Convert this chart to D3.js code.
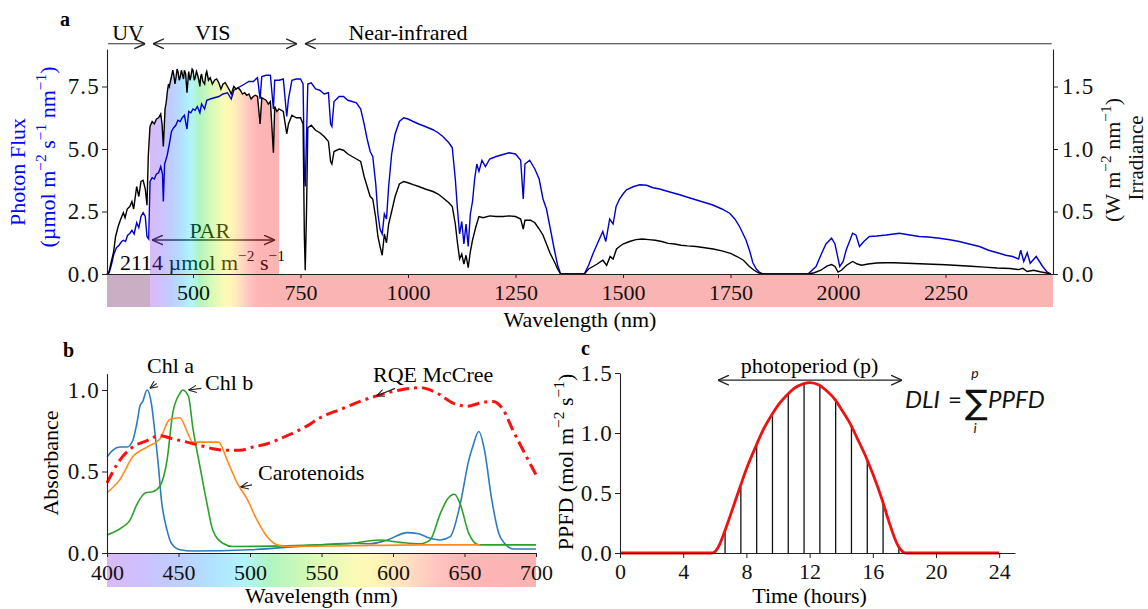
<!DOCTYPE html>
<html><head><meta charset="utf-8">
<script src="https://cdn.jsdelivr.net/npm/d3@7"></script>
<style>body{margin:0;background:#fff} svg{display:block}</style>
</head><body><svg id="c" width="1148" height="609"></svg>
<script>
// ---------- DATA ----------
// Panel a: solar irradiance (W m-2 nm-1, right axis) and photon flux (umol m-2 s-1 nm-1, left axis)
const irradiance = [[300,0],[305,0.02],[310,0.1],[315,0.17],[320,0.3],[326,0.38],[332,0.44],[338,0.49],[342,0.45],[347,0.52],[353,0.54],[358,0.58],[362,0.52],[369,0.70],[374,0.62],[379,0.74],[384,0.75],[389,0.68],[393,0.55],[396,0.94],[400,1.18],[405,1.22],[410,1.20],[415,1.24],[420,1.25],[425,1.28],[428,1.2],[431,1.02],[435,1.32],[438,1.38],[440,1.45],[443,1.52],[445,1.5],[448,1.55],[450,1.58],[453,1.63],[455,1.6],[458,1.52],[460,1.56],[463,1.64],[465,1.62],[468,1.55],[470,1.57],[473,1.63],[475,1.6],[478,1.56],[480,1.63],[483,1.6],[486,1.45],[490,1.62],[493,1.55],[495,1.58],[498,1.64],[500,1.63],[503,1.55],[505,1.57],[508,1.62],[510,1.6],[513,1.56],[516,1.5],[518,1.58],[520,1.6],[523,1.54],[527,1.52],[530,1.6],[532,1.62],[536,1.55],[540,1.57],[545,1.52],[550,1.55],[555,1.56],[560,1.53],[565,1.48],[570,1.52],[575,1.53],[580,1.5],[585,1.47],[589,1.44],[595,1.5],[600,1.48],[605,1.49],[610,1.47],[615,1.44],[620,1.45],[625,1.43],[630,1.44],[635,1.4],[640,1.42],[645,1.43],[650,1.42],[656,1.2],[660,1.41],[665,1.4],[670,1.39],[675,1.36],[680,1.38],[687,0.97],[690,1.34],[695,1.3],[700,1.32],[710,1.3],[718,1.12],[722,1.2],[730,1.27],[740,1.25],[750,1.25],[756,1.2],[759,0.3],[761,0.03],[764,0.5],[767,1.17],[775,1.19],[785,1.15],[795,1.13],[805,1.1],[815,1.06],[820,0.9],[823,0.88],[828,0.98],[840,1.0],[850,0.99],[860,0.96],[870,0.94],[880,0.92],[890,0.9],[898,0.78],[905,0.7],[912,0.62],[918,0.6],[925,0.45],[930,0.3],[935,0.22],[940,0.15],[945,0.32],[950,0.25],[955,0.4],[962,0.5],[970,0.62],[980,0.72],[990,0.74],[1000,0.73],[1012,0.715],[1025,0.70],[1040,0.68],[1058,0.66],[1070,0.64],[1081,0.61],[1095,0.57],[1103,0.54],[1110,0.4],[1115,0.25],[1120,0.12],[1125,0.16],[1130,0.08],[1135,0.15],[1140,0.05],[1145,0.18],[1150,0.27],[1158,0.38],[1165,0.46],[1175,0.45],[1190,0.465],[1205,0.46],[1221,0.46],[1235,0.465],[1250,0.46],[1262,0.44],[1268,0.36],[1272,0.43],[1285,0.43],[1295,0.41],[1305,0.36],[1314,0.31],[1322,0.24],[1330,0.17],[1340,0.1],[1348,0.04],[1355,0],[1410,0],[1420,0.04],[1430,0.06],[1440,0.08],[1453,0.11],[1462,0.07],[1470,0.14],[1477,0.12],[1485,0.2],[1492,0.22],[1500,0.24],[1515,0.26],[1530,0.275],[1545,0.28],[1560,0.275],[1575,0.27],[1590,0.26],[1605,0.245],[1620,0.24],[1635,0.23],[1650,0.225],[1670,0.22],[1690,0.21],[1710,0.2],[1730,0.185],[1750,0.165],[1765,0.14],[1780,0.11],[1794,0.06],[1805,0.03],[1815,0.01],[1825,0],[1930,0],[1945,0.01],[1960,0.03],[1975,0.065],[1985,0.075],[1993,0.06],[2000,0.015],[2008,0.03],[2020,0.07],[2034,0.1],[2045,0.08],[2055,0.07],[2070,0.08],[2090,0.088],[2110,0.09],[2130,0.09],[2160,0.086],[2190,0.082],[2220,0.078],[2250,0.074],[2280,0.068],[2310,0.062],[2340,0.055],[2370,0.048],[2400,0.044],[2420,0.035],[2430,0.045],[2440,0.02],[2455,0.03],[2470,0.018],[2485,0.008],[2495,0]];

const photonFlux = [[300,0],[305,0.05],[310,0.35],[316,0.8],[322,1.05],[328,1.15],[334,1.3],[338,1.35],[343,1.3],[348,1.55],[353,1.62],[358,1.75],[363,1.6],[369,2.05],[374,1.85],[379,2.3],[384,2.45],[389,2.3],[393,1.5],[397,1.4],[400,3.7],[405,3.85],[410,3.8],[415,4.0],[420,4.05],[425,4.3],[429,4.0],[431,2.9],[434,4.4],[440,4.75],[445,5.2],[450,5.7],[455,5.85],[460,5.95],[465,6.15],[470,6.1],[475,6.25],[480,6.35],[486,5.8],[490,6.5],[495,6.45],[500,6.6],[505,6.55],[510,6.7],[516,6.45],[520,6.8],[527,6.6],[532,6.95],[540,7.0],[550,7.05],[560,7.1],[570,7.2],[580,7.25],[589,7.0],[595,7.35],[600,7.4],[610,7.5],[620,7.6],[630,7.7],[640,7.7],[650,7.85],[656,7.0],[660,7.9],[670,7.95],[680,7.95],[687,6.6],[690,7.75],[700,7.75],[710,7.8],[718,6.3],[722,7.0],[730,7.75],[740,7.8],[750,7.8],[756,7.6],[759,4.0],[761,3.5],[764,5.5],[767,7.6],[775,7.65],[785,7.4],[795,7.35],[805,7.2],[815,7.25],[820,6.0],[823,5.9],[828,6.9],[840,7.1],[850,7.1],[860,6.95],[870,6.9],[880,6.85],[890,6.6],[898,6.0],[905,5.4],[912,4.9],[918,4.7],[925,3.6],[930,2.4],[935,1.8],[940,1.6],[945,2.4],[950,2.2],[955,3.5],[962,4.8],[970,5.6],[980,6.1],[990,6.25],[1000,6.2],[1012,6.1],[1025,6.0],[1040,5.9],[1058,5.77],[1070,5.65],[1081,5.5],[1095,5.25],[1103,5.05],[1110,3.8],[1115,2.6],[1120,1.6],[1125,2.1],[1130,1.2],[1135,2.0],[1140,1.1],[1145,2.4],[1150,2.9],[1155,3.8],[1160,4.4],[1165,4.1],[1172,4.55],[1180,4.3],[1190,4.6],[1205,4.7],[1221,4.78],[1235,4.85],[1250,4.8],[1262,4.55],[1268,3.0],[1272,4.4],[1283,4.55],[1295,4.2],[1305,3.8],[1314,3.0],[1322,2.6],[1330,1.9],[1340,1.0],[1348,0.35],[1355,0],[1410,0],[1420,0.35],[1430,0.8],[1440,1.2],[1453,1.7],[1460,1.3],[1469,2.2],[1477,2.0],[1484,2.7],[1492,3.0],[1500,3.2],[1508,3.37],[1525,3.5],[1539,3.57],[1555,3.55],[1570,3.45],[1585,3.4],[1601,3.32],[1615,3.25],[1632,3.17],[1650,3.07],[1671,2.96],[1690,2.86],[1709,2.76],[1730,2.6],[1748,2.43],[1760,2.2],[1771,1.9],[1786,1.36],[1795,0.9],[1802,0.45],[1810,0.2],[1817,0.08],[1825,0],[1930,0],[1949,0.3],[1960,0.75],[1972,1.2],[1985,1.43],[1993,1.2],[2004,0.3],[2012,0.5],[2019,0.96],[2034,1.63],[2042,1.55],[2050,1.1],[2060,1.3],[2073,1.5],[2090,1.52],[2112,1.56],[2130,1.6],[2143,1.63],[2160,1.58],[2189,1.5],[2210,1.48],[2236,1.43],[2260,1.37],[2282,1.3],[2305,1.2],[2329,1.1],[2350,0.95],[2375,0.83],[2390,0.75],[2406,0.7],[2420,0.6],[2425,0.95],[2432,0.5],[2440,0.85],[2447,0.43],[2461,0.7],[2476,0.3],[2485,0.1],[2495,0]];

const ticksA = [500,750,1000,1250,1500,1750,2000,2250];
const ticksAL = [0,2.5,5.0,7.5];
const ticksAR = [0,0.5,1.0,1.5];

// Panel b: absorbance spectra
const chlA = [[400,0.59],[404,0.63],[409,0.65],[414,0.65],[418,0.69],[421,0.8],[423,0.9],[425,0.93],[428,1.0],[431,0.92],[433.6,0.73],[436,0.53],[438,0.33],[442,0.14],[445,0.06],[451,0.02],[460,0.012],[500,0.02],[549,0.05],[572,0.06],[584,0.057],[596,0.08],[610,0.125],[617,0.12],[626,0.09],[633,0.08],[640,0.1],[647,0.3],[653,0.57],[656,0.66],[660,0.745],[664,0.63],[669,0.33],[674,0.12],[678,0.06],[684,0.025],[700,0.025]];
const chlB = [[400,0.11],[411,0.16],[416,0.2],[421,0.3],[427,0.37],[432,0.376],[437,0.41],[442,0.57],[446,0.86],[451,0.98],[453,1.0],[457,0.96],[460,0.77],[465,0.53],[470,0.3],[474,0.14],[481,0.06],[488,0.04],[549,0.05],[572,0.06],[590,0.08],[605,0.065],[619,0.056],[626,0.08],[633,0.24],[638,0.33],[643,0.36],[647,0.3],[653,0.12],[660,0.05],[700,0.05]];
const carotenoids = [[400,0.37],[409,0.45],[418,0.59],[428,0.65],[437,0.7],[444,0.82],[451,0.83],[456,0.745],[460,0.68],[466,0.68],[472,0.68],[478,0.68],[484,0.57],[491,0.43],[498,0.33],[505,0.2],[512,0.1],[519,0.05],[526,0.04],[570,0.045],[620,0.05],[661,0.05]];
const rqe = [[400,0.43],[409,0.57],[418,0.65],[428,0.69],[437,0.72],[446,0.70],[456,0.68],[465,0.66],[474,0.64],[484,0.63],[493,0.63],[502,0.65],[512,0.67],[526,0.72],[540,0.78],[549,0.83],[554,0.85],[563,0.88],[577,0.93],[591,0.97],[605,1.0],[619,1.014],[631,0.98],[642,0.92],[652,0.90],[661,0.92],[670,0.93],[677,0.88],[684,0.75],[691,0.63],[700,0.48]];
const ticksBX = [400,450,500,550,600,650,700];
const ticksBY = [0,0.5,1.0];

// Panel c: PPFD over a day
const ppfdCurve = [[0,0],[5.8,0],[6.0,0.01],[6.3,0.07],[6.6,0.17],[7.0,0.32],[7.6,0.55],[8.0,0.70],[8.6,0.89],[9.0,1.01],[9.6,1.15],[10,1.23],[10.6,1.32],[11,1.37],[11.6,1.41],[12,1.42],[12.6,1.40],[13,1.36],[13.6,1.28],[14,1.2],[14.6,1.07],[15,0.96],[15.6,0.79],[16,0.66],[16.6,0.44],[17,0.27],[17.6,0.06],[17.9,0.01],[18.1,0],[24,0]];
const ppfdHours = [6.65,7.65,8.65,9.65,10.65,11.65,12.65,13.65,14.65,15.65,16.65,17.65];
const ppfdBars = [0.17,0.55,0.89,1.14,1.32,1.40,1.39,1.28,1.07,0.79,0.44,0.04];
const ticksCX = [0,4,8,12,16,20,24];
const ticksCY = [0,0.5,1.0,1.5];

// spectrum colour stops (nm, colour) used with transparency
const bandStops = [[300,"#5a0a4c"],[399,"#5a0a4c"],[400.5,"#8a30e0"],[425,"#6a40ff"],[450,"#3a6cff"],[475,"#10a8ff"],[495,"#10e0f0"],[515,"#10e040"],[545,"#90f020"],[575,"#f8f020"],[590,"#ffe020"],[610,"#ffa040"],[630,"#ff5040"],[650,"#ff2020"],[700,"#f01b1b"],[2500,"#f01b1b"]];

// ---------- DRAW ----------
const SERIF = "'Liberation Serif','Times New Roman',serif";
const svg = d3.select("#c").style("font-family",SERIF);
const FS = 22, LFS = 22, YFS = 23;
const defs = svg.append("defs");

function marker(id, size, color){
  defs.append("marker").attr("id",id).attr("viewBox","0 0 10 10").attr("refX",10).attr("refY",5)
    .attr("markerWidth",size).attr("markerHeight",size).attr("markerUnits","userSpaceOnUse")
    .attr("orient","auto-start-reverse")
    .append("path").attr("d","M0,0.5 L10,5 L0,9.5").attr("fill","none").attr("stroke",color).attr("stroke-width",1.3);
}
marker("ah",11,"#222");
marker("ahs",8,"#222");

function gradient(id, scale, lo, hi){
  const g = defs.append("linearGradient").attr("id",id).attr("gradientUnits","userSpaceOnUse")
    .attr("x1",scale(lo)).attr("x2",scale(hi)).attr("y1",0).attr("y2",0);
  bandStops.filter(s=>s[0]>=lo-1 && s[0]<=hi+1).forEach(s=>{
    g.append("stop").attr("offset",Math.max(0,Math.min(1,(s[0]-lo)/(hi-lo)))).attr("stop-color",s[1]);
  });
}

function rich(t, parts, fs){
  let up=false;
  parts.forEach(p=>{
    if(Array.isArray(p)){
      t.append("tspan").attr("font-size",fs*0.7).attr("dy",-fs*0.42).text(p[0]); up=true;
    } else {
      const ts=t.append("tspan").text(p);
      if(up){ts.attr("dy",fs*0.42); up=false;}
    }
  });
  return t;
}
function styleAxis(g, fs, ls){
  g.attr("font-family",null).attr("font-size",null);
  g.selectAll("text").style("font-family",SERIF).attr("font-size",fs).attr("fill","#111");
  if(ls) g.selectAll("text").attr("letter-spacing",ls);
  g.selectAll("line").attr("stroke","#222").attr("stroke-width",1);
  g.select(".domain").attr("stroke","#222").attr("stroke-width",1.1);
}

// ===== Panel a =====
const xA = d3.scaleLinear([300,2500],[107,1053]);
const yA = d3.scaleLinear([0,9],[274,49]);
const yA2 = d3.scaleLinear([0,1.8],[274,49]);
gradient("gA", xA, 300, 2500);

svg.append("rect").attr("x",xA(300)).attr("y",274).attr("width",xA(2500)-xA(300)).attr("height",33)
  .attr("fill","url(#gA)").attr("opacity",0.33);

// annotations (under the PAR colouring)
const ga = svg.append("g");
ga.append("line").attr("x1",xA(405)).attr("x2",xA(690)).attr("y1",yA(1.36)).attr("y2",yA(1.36))
  .attr("stroke","#222").attr("stroke-width",1.3).attr("marker-start","url(#ah)").attr("marker-end","url(#ah)");
ga.append("text").attr("x",xA(539)).attr("y",yA(1.44)).attr("text-anchor","middle").attr("font-size",LFS).text("PAR");
rich(ga.append("text").attr("x",xA(330)).attr("y",yA(0.16)).attr("font-size",LFS),["2114 µmol m",["−2"]," s",["−1"]],LFS);

// PAR colour under the irradiance curve
defs.append("clipPath").attr("id","parClip").append("rect")
  .attr("x",xA(400)).attr("width",xA(700)-xA(400)).attr("y",0).attr("height",300);
svg.append("path").datum(irradiance)
  .attr("d",d3.area().x(d=>xA(d[0])).y0(yA2(0)).y1(d=>yA2(d[1])))
  .attr("fill","url(#gA)").attr("opacity",0.33).attr("clip-path","url(#parClip)");

// curves
svg.append("path").datum(photonFlux).attr("d",d3.line().x(d=>xA(d[0])).y(d=>yA(d[1])))
  .attr("fill","none").attr("stroke","#0000cc").attr("stroke-width",1.4);
svg.append("path").datum(irradiance).attr("d",d3.line().x(d=>xA(d[0])).y(d=>yA2(d[1])))
  .attr("fill","none").attr("stroke","#000").attr("stroke-width",1.4);

// axes
styleAxis(svg.append("g").attr("transform","translate(0,274)")
  .call(d3.axisBottom(xA).tickValues(ticksA).tickFormat(d3.format("d")).tickSize(4).tickSizeOuter(0).tickPadding(6)),FS);
styleAxis(svg.append("g").attr("transform","translate(107,0)")
  .call(d3.axisLeft(yA).tickValues(ticksAL).tickFormat(d3.format(".1f")).tickSize(5).tickSizeOuter(0).tickPadding(2)),YFS,1.2);
styleAxis(svg.append("g").attr("transform","translate(1053,0)")
  .call(d3.axisRight(yA2).tickValues(ticksAR).tickFormat(d3.format(".1f")).tickSize(5).tickSizeOuter(0).tickPadding(4)),YFS,1.2);

svg.append("text").attr("x",xA(1400)).attr("y",327).attr("text-anchor","middle").attr("font-size",LFS).text("Wavelength (nm)");
svg.append("text").attr("transform",`translate(25,${172}) rotate(-90)`).attr("text-anchor","middle")
  .attr("font-size",LFS).attr("fill","#0000ff").text("Photon Flux");
rich(svg.append("text").attr("transform",`translate(55,${157}) rotate(-90)`).attr("text-anchor","middle")
  .attr("font-size",LFS).attr("fill","#0000ff"),["(µmol m",["−2"]," s",["−1"]," nm",["−1"],")"],LFS);
rich(svg.append("text").attr("transform",`translate(1120,${160}) rotate(-90)`).attr("text-anchor","middle")
  .attr("font-size",LFS).attr("fill","#111"),["(W m",["−2"]," nm",["−1"],")"],LFS);
svg.append("text").attr("transform",`translate(1143,${158}) rotate(-90)`).attr("text-anchor","middle")
  .attr("font-size",21).attr("fill","#111").text("Irradiance");

// region arrows
const yTop = yA(9.21);
svg.append("line").attr("x1",xA(302)).attr("x2",xA(389)).attr("y1",yTop).attr("y2",yTop)
  .attr("stroke","#333").attr("stroke-width",1.2).attr("marker-end","url(#ah)");
svg.append("line").attr("x1",xA(407)).attr("x2",xA(742)).attr("y1",yTop).attr("y2",yTop)
  .attr("stroke","#333").attr("stroke-width",1.2).attr("marker-start","url(#ah)").attr("marker-end","url(#ah)");
svg.append("line").attr("x1",xA(760)).attr("x2",xA(2497)).attr("y1",yTop).attr("y2",yTop)
  .attr("stroke","#333").attr("stroke-width",1.2).attr("marker-start","url(#ah)");
svg.append("text").attr("x",xA(349)).attr("y",yA(9.35)).attr("text-anchor","middle").attr("font-size",LFS).text("UV");
svg.append("text").attr("x",xA(546)).attr("y",yA(9.35)).attr("text-anchor","middle").attr("font-size",LFS).text("VIS");
svg.append("text").attr("x",xA(1000)).attr("y",yA(9.35)).attr("text-anchor","middle").attr("font-size",LFS).text("Near-infrared");
svg.append("text").attr("x",60).attr("y",26).attr("font-size",20).attr("font-weight","bold").text("a");

// ===== Panel b =====
const xB = d3.scaleLinear([400,700],[107,536]);
const yB = d3.scaleLinear([0,1.1],[553,373.7]);
gradient("gB", xB, 400, 700);
svg.append("rect").attr("x",xB(400)).attr("y",553).attr("width",xB(700)-xB(400)).attr("height",34)
  .attr("fill","url(#gB)").attr("opacity",0.33);
const lineB = d3.line().x(d=>xB(d[0])).y(d=>yB(d[1])).curve(d3.curveMonotoneX);
[[chlA,"#2b7bbf"],[chlB,"#2ca02c"],[carotenoids,"#ff8c1a"]].forEach(([d,c])=>{
  svg.append("path").datum(d).attr("d",lineB).attr("fill","none").attr("stroke",c).attr("stroke-width",1.6);
});
svg.append("path").datum(rqe).attr("d",lineB).attr("fill","none").attr("stroke","#ff1010")
  .attr("stroke-width",3).attr("stroke-dasharray","12,5,3,5");

styleAxis(svg.append("g").attr("transform","translate(0,553)")
  .call(d3.axisBottom(xB).tickValues(ticksBX).tickFormat(d3.format("d")).tickSize(4).tickSizeOuter(0).tickPadding(7)),FS);
styleAxis(svg.append("g").attr("transform","translate(107,0)")
  .call(d3.axisLeft(yB).tickValues(ticksBY).tickFormat(d3.format(".1f")).tickSize(5).tickSizeOuter(0).tickPadding(2)),YFS,1.2);

svg.append("text").attr("x",xB(550)).attr("y",603).attr("text-anchor","middle").attr("font-size",LFS).text("Wavelength (nm)");
svg.append("text").attr("transform",`translate(58,463) rotate(-90)`).attr("text-anchor","middle").attr("font-size",LFS).text("Absorbance");
svg.append("text").attr("x",63).attr("y",357).attr("font-size",20).attr("font-weight","bold").text("b");

function annot(x1,y1,x2,y2){
  svg.append("line").attr("x1",xB(x1)).attr("y1",yB(y1)).attr("x2",xB(x2)).attr("y2",yB(y2))
    .attr("stroke","#222").attr("stroke-width",1.1).attr("marker-end","url(#ahs)");
}
svg.append("text").attr("x",xB(428)).attr("y",yB(1.104)).attr("font-size",LFS).text("Chl a");
annot(434.7,1.04,430,1.01);
svg.append("text").attr("x",xB(468.5)).attr("y",yB(1.0)).attr("font-size",LFS).text("Chl b");
annot(466,1.01,457,1.0);
svg.append("text").attr("x",xB(505.6)).attr("y",yB(0.448)).attr("font-size",LFS).text("Carotenoids");
annot(501.5,0.418,493.4,0.405);
svg.append("text").attr("x",xB(586)).attr("y",yB(1.05)).attr("font-size",LFS).text("RQE McCree");
annot(601.4,1.01,588.5,0.963);

// ===== Panel c =====
const xC = d3.scaleLinear([0,25],[620,1015]);
const yC = d3.scaleLinear([0,1.5],[553,373]);
svg.append("g").selectAll("line").data(ppfdHours).join("line")
  .attr("x1",d=>xC(d)).attr("x2",d=>xC(d)).attr("y1",yC(0)).attr("y2",(d,i)=>yC(ppfdBars[i]))
  .attr("stroke","#111").attr("stroke-width",1.3);
svg.append("path").datum(ppfdCurve).attr("d",d3.line().x(d=>xC(d[0])).y(d=>yC(d[1])).curve(d3.curveMonotoneX))
  .attr("fill","none").attr("stroke","#ee1111").attr("stroke-width",2.8);
styleAxis(svg.append("g").attr("transform","translate(0,553)")
  .call(d3.axisBottom(xC).tickValues(ticksCX).tickSize(5).tickSizeOuter(0).tickPadding(5)),FS);
styleAxis(svg.append("g").attr("transform","translate(620,0)")
  .call(d3.axisLeft(yC).tickValues(ticksCY).tickFormat(d3.format(".1f")).tickSize(5).tickSizeOuter(0).tickPadding(2)),YFS,1.2);
svg.append("text").attr("x",xC(12)).attr("y",603).attr("text-anchor","middle").attr("font-size",LFS).text("Time (hours)");
rich(svg.append("text").attr("transform",`translate(573,462) rotate(-90)`).attr("text-anchor","middle")
  .attr("font-size",LFS),["PPFD (mol m",["−2"]," s",["−1"],")"],LFS);
svg.append("text").attr("x",581).attr("y",355).attr("font-size",20).attr("font-weight","bold").text("c");

svg.append("line").attr("x1",xC(6.2)).attr("x2",xC(17.85)).attr("y1",yC(1.44)).attr("y2",yC(1.44))
  .attr("stroke","#222").attr("stroke-width",1.2).attr("marker-start","url(#ah)").attr("marker-end","url(#ah)");
svg.append("text").attr("x",xC(12)).attr("y",yC(1.5)).attr("text-anchor","middle").attr("font-size",LFS).text("photoperiod (p)");

// equation  DLI = sum_i^p PPFD
const SANS = "Lato,'Open Sans','Liberation Sans',sans-serif";
const eqX = xC(18.04), eqY = yC(1.208);
const eq = svg.append("g").attr("fill","#111");
eq.append("text").attr("x",eqX).attr("y",eqY).style("font-family",SANS).style("font-style","italic").attr("font-size",24).text("DLI");
eq.append("text").attr("x",eqX+43).attr("y",eqY).style("font-family",SANS).attr("font-size",24).text("=");
eq.append("text").attr("x",eqX+60).attr("y",eqY+6).style("font-family","'DejaVu Sans'").attr("font-size",34).text("∑");
eq.append("text").attr("x",eqX+70).attr("y",eqY-30).style("font-family",SANS).style("font-style","italic").attr("font-size",14).attr("text-anchor","middle").text("p");
eq.append("text").attr("x",eqX+70).attr("y",eqY+25).style("font-family",SANS).style("font-style","italic").attr("font-size",14).attr("text-anchor","middle").text("i");
eq.append("text").attr("x",eqX+83).attr("y",eqY).style("font-family",SANS).style("font-style","italic").attr("font-size",24).text("PPFD");
</script></body></html>
